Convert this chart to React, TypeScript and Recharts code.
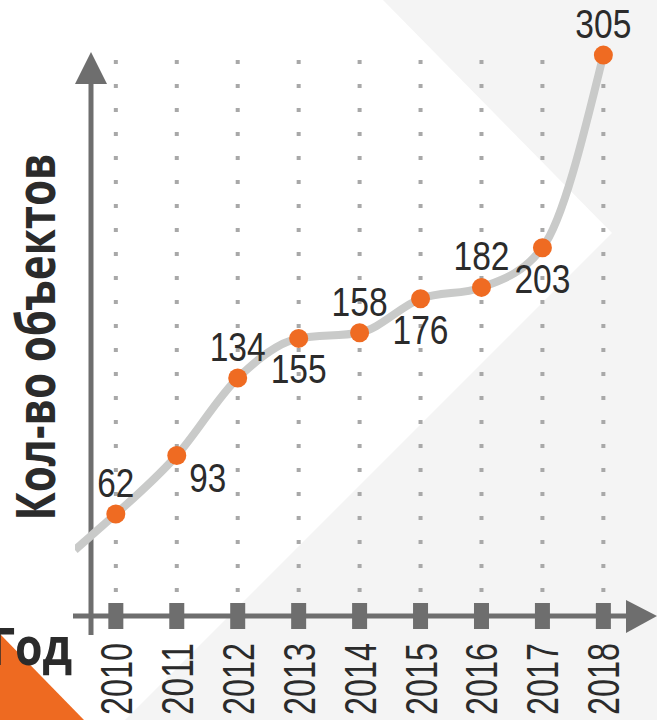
import { LineChart, Line, XAxis, YAxis, CartesianGrid, LabelList } from 'recharts';

const years = [2010, 2011, 2012, 2013, 2014, 2015, 2016, 2017, 2018];
const objects = [62, 93, 134, 155, 158, 176, 182, 203, 305];
const labelSide = ['top', 'right', 'top', 'bottom', 'top', 'bottom', 'top', 'bottom', 'top'];
// the grey curve starts a little left of 2010
const leadIn = [
  { year: 2009.33, objects: 43 },
  { year: 2010, objects: 62 },
];

const data = years.map((year, i) => ({ year, objects: objects[i] }));

const X_DOMAIN: [number, number] = [2009.33, 2018.88];

const AXIS = '#6e6e6e';
const LINE = '#c9cac9';
const DOT = '#ef6b22';
const TEXT = '#2b2b2b';
const NARROW = "'Liberation Sans', Arial, sans-serif";
const BOLD = "'Open Sans', Roboto, sans-serif";

function YearTick(props: any) {
  const { x, y, payload } = props;
  return (
    <g transform={`translate(${x},${y})`}>
      <rect x={-7.5} y={-13} width={15} height={26} fill={AXIS} />
      <text
        transform="rotate(-90)"
        x={-27}
        y={16}
        textAnchor="end"
        fontFamily={NARROW}
        fontSize={44}
        fill={TEXT}
        textLength={72}
        lengthAdjust="spacingAndGlyphs"
      >
        {payload.value}
      </text>
    </g>
  );
}

function ValueLabel(props: any) {
  const { x, y, value, index } = props;
  const side = labelSide[index];
  let tx = x;
  let ty = y - 17;
  if (side === 'bottom') ty = y + 45;
  if (side === 'right') {
    tx = x + 31;
    ty = y + 37;
  }
  return (
    <text
      x={tx}
      y={ty}
      textAnchor="middle"
      fontFamily={NARROW}
      fontSize={40}
      fill={TEXT}
      textLength={String(value).length * 19 - 1}
      lengthAdjust="spacingAndGlyphs"
    >
      {value}
    </text>
  );
}

function Backdrop() {
  return (
    <svg width={657} height={720} style={{ position: 'absolute', left: 0, top: 0 }}>
      <rect width={657} height={720} fill="#ffffff" />
      <polygon points="383,0 657,0 657,720 125,720 612,233" fill="#f4f4f4" />
      <polygon points="0,634 0,720 84,720" fill="#ee6a21" />
      <text
        x={72}
        y={665}
        textAnchor="end"
        fontFamily={BOLD}
        fontWeight={700}
        fontSize={52}
        fill={TEXT}
        textLength={82}
        lengthAdjust="spacingAndGlyphs"
      >
        Год
      </text>
      <text
        transform="translate(55,337) rotate(-90)"
        textAnchor="middle"
        fontFamily={BOLD}
        fontWeight={700}
        fontSize={54}
        fill={TEXT}
        textLength={367}
        lengthAdjust="spacingAndGlyphs"
      >
        Кол-во объектов
      </text>
      {/* axes with arrow heads */}
      <line x1={91} y1={80} x2={91} y2={635} stroke={AXIS} strokeWidth={5} />
      <polygon points="91,52 75,84 107,84" fill={AXIS} />
      <line x1={73} y1={616} x2={628} y2={616} stroke={AXIS} strokeWidth={5} />
      <polygon points="657,616 626,600 626,633" fill={AXIS} />
    </svg>
  );
}

// dotted columns at each year, placed inside the plot area that recharts hands over
const yearColumns = ({ offset }: any) =>
  years.map((yr) => offset.left + ((yr - X_DOMAIN[0]) / (X_DOMAIN[1] - X_DOMAIN[0])) * offset.width);

export default function App() {
  return (
    <div style={{ position: 'absolute', left: 0, top: 0, width: 657, height: 720 }}>
      <Backdrop />
      <LineChart
        width={657}
        height={720}
        data={data}
        margin={{ top: 40, right: 0, bottom: 4, left: 75 }}
        style={{ position: 'absolute', left: 0, top: 0 }}
      >
        <CartesianGrid
          horizontal={false}
          stroke="#a8a8a8"
          strokeWidth={4}
          strokeDasharray="0 20 4 0"
          verticalCoordinatesGenerator={yearColumns}
        />
        <XAxis
          dataKey="year"
          type="number"
          domain={X_DOMAIN}
          ticks={years}
          allowDataOverflow
          axisLine={false}
          tickLine={false}
          tickSize={0}
          tickMargin={0}
          height={100}
          interval={0}
          tick={<YearTick />}
        />
        <YAxis hide domain={[8, 313]} allowDataOverflow />
        <Line
          data={leadIn}
          dataKey="objects"
          type="linear"
          stroke={LINE}
          strokeWidth={8}
          dot={false}
          activeDot={false}
          isAnimationActive={false}
        />
        <Line
          dataKey="objects"
          type="monotone"
          stroke={LINE}
          strokeWidth={8}
          dot={{ r: 9.5, fill: DOT, stroke: 'none' }}
          activeDot={false}
          isAnimationActive={false}
        >
          <LabelList dataKey="objects" content={<ValueLabel />} />
        </Line>
      </LineChart>
    </div>
  );
}
